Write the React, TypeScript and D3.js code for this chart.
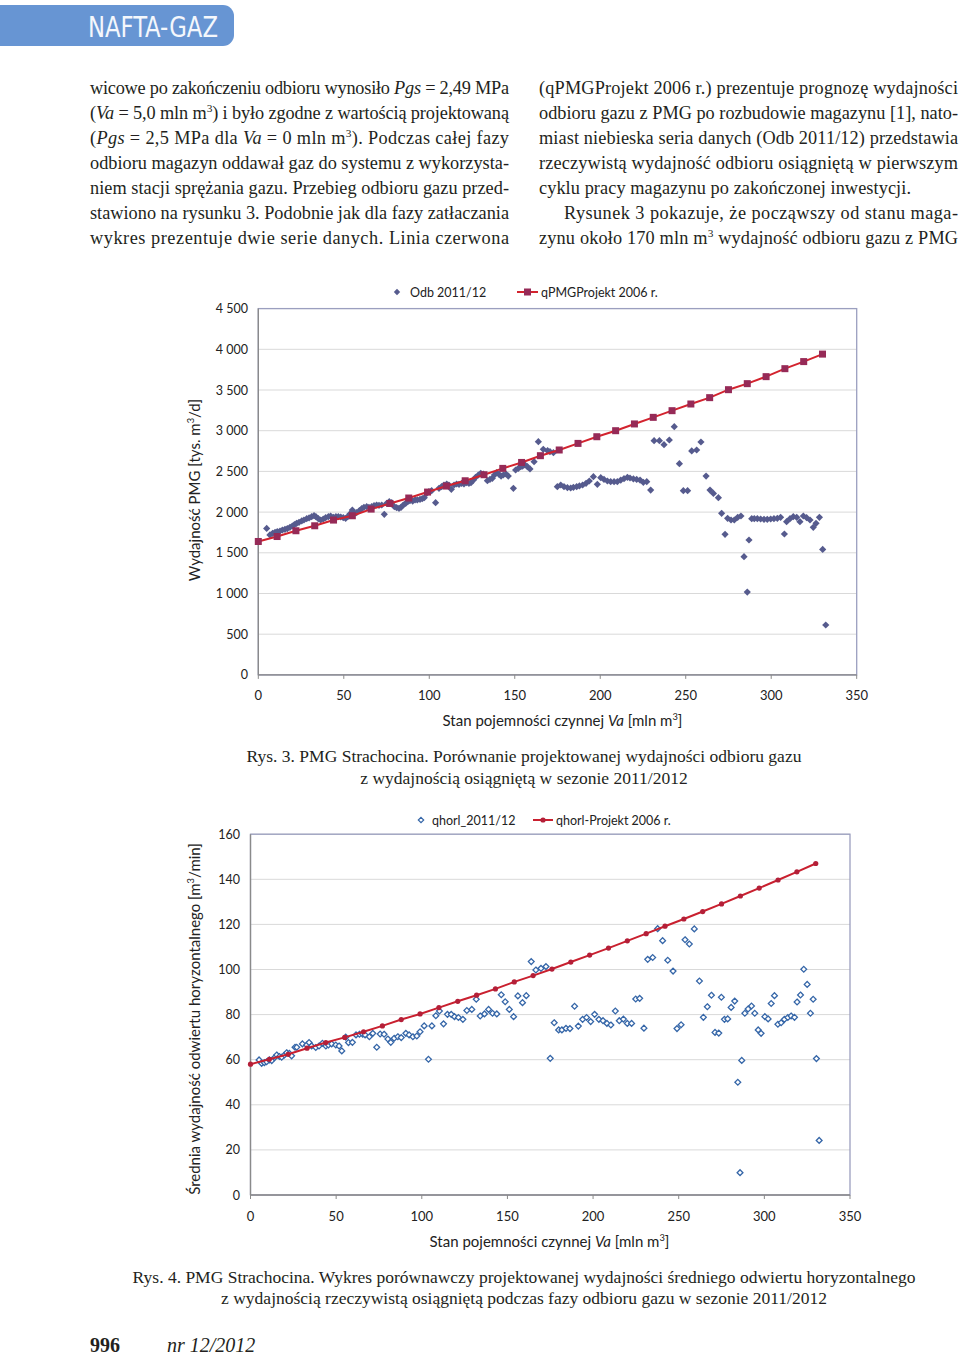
import React from 'react';
import * as d3 from 'd3';

// ---------- DATA ----------
const PROJ_VA = [0, 11, 22, 33, 44, 55, 66, 77, 88, 99, 110, 121, 132, 143, 154, 165, 176, 187, 198, 209, 220, 231, 242, 253, 264, 275, 286, 297, 308, 319, 330];
const PROJ_Q = [1639, 1700, 1771, 1832, 1902, 1955, 2037, 2106, 2173, 2246, 2320, 2385, 2459, 2537, 2610, 2693, 2763, 2844, 2926, 3000, 3083, 3164, 3246, 3328, 3406, 3504, 3578, 3664, 3762, 3849, 3941];

const ODB_VA = [4.9, 6.8, 8.4, 9.8, 11.1, 12.7, 14.1, 15.6, 17.0, 18.5, 19.9, 21.1, 22.4, 23.8, 25.4, 26.7, 28.3, 29.7, 31.2, 32.6, 33.7, 35.1, 36.5, 38.0, 39.4, 41.0, 42.3, 43.9, 45.4, 46.8, 48.2, 49.7, 51.1, 52.3, 53.6, 55.0, 56.2, 57.5, 59.1, 60.5, 61.8, 63.4, 64.7, 66.3, 67.7, 69.2, 70.6, 72.2, 73.7, 75.1, 76.6, 78.0, 79.6, 80.9, 82.3, 83.5, 84.8, 86.2, 87.4, 88.7, 90.3, 91.7, 93.0, 94.6, 95.9, 97.1, 98.5, 99.8, 101.4, 103.7, 105.7, 107.2, 108.6, 110.2, 111.5, 112.9, 114.5, 116.0, 117.4, 118.9, 120.3, 121.9, 123.2, 124.4, 125.8, 127.1, 128.7, 130.1, 131.6, 134.0, 135.5, 136.9, 138.1, 139.4, 140.8, 142.0, 143.3, 144.9, 146.2, 149.2, 150.5, 152.1, 153.5, 154.6, 156.0, 157.4, 158.9, 161.3, 163.8, 166.7, 169.2, 170.6, 172.6, 174.9, 176.9, 178.8, 180.8, 182.7, 184.3, 186.2, 187.8, 189.7, 191.7, 193.6, 196.0, 198.3, 200.3, 202.2, 204.2, 206.1, 208.1, 210.0, 212.0, 213.9, 215.9, 217.4, 219.4, 221.3, 223.3, 225.2, 227.2, 229.5, 231.5, 234.6, 237.3, 240.4, 243.3, 246.3, 248.6, 251.1, 253.5, 256.4, 258.9, 261.9, 264.2, 266.2, 269.1, 271.0, 273.0, 274.5, 276.5, 278.4, 280.4, 282.3, 284.1, 286.0, 287.0, 288.6, 290.1, 291.9, 293.8, 295.8, 297.7, 299.7, 301.6, 303.6, 305.5, 307.7, 309.0, 311.0, 312.9, 314.9, 316.8, 318.8, 320.7, 322.7, 324.6, 326.2, 328.2, 330.1, 331.9];
const ODB_Q = [1800, 1719, 1739, 1751, 1760, 1768, 1780, 1788, 1797, 1813, 1829, 1846, 1862, 1874, 1891, 1903, 1919, 1928, 1944, 1956, 1944, 1919, 1903, 1915, 1932, 1944, 1952, 1936, 1944, 1944, 1940, 1932, 1923, 1944, 1977, 2026, 1985, 1993, 2018, 2042, 2059, 2067, 2059, 2067, 2079, 2087, 2083, 2087, 1973, 2108, 2128, 2116, 2067, 2055, 2046, 2059, 2087, 2108, 2128, 2140, 2136, 2149, 2149, 2157, 2165, 2177, 2231, 2251, 2263, 2116, 2292, 2312, 2333, 2345, 2333, 2280, 2333, 2345, 2341, 2353, 2345, 2362, 2353, 2362, 2394, 2427, 2456, 2476, 2468, 2386, 2403, 2415, 2456, 2484, 2464, 2443, 2456, 2468, 2443, 2292, 2517, 2538, 2558, 2566, 2579, 2558, 2530, 2620, 2865, 2771, 2755, 2742, 2730, 2312, 2333, 2312, 2300, 2296, 2304, 2312, 2321, 2333, 2353, 2382, 2435, 2341, 2423, 2402, 2382, 2374, 2374, 2374, 2394, 2411, 2427, 2419, 2407, 2402, 2394, 2366, 2374, 2271, 2877, 2877, 2828, 2886, 3050, 2595, 2263, 2263, 2751, 2763, 2861, 2443, 2271, 2230, 2177, 1985, 1727, 1923, 1903, 1903, 1936, 1952, 1452, 1018, 1657, 1919, 1919, 1919, 1915, 1911, 1911, 1915, 1919, 1923, 1936, 1731, 1882, 1919, 1944, 1936, 1882, 1952, 1932, 1903, 1813, 1862, 1936, 1542, 613];

const HORL_PROJ_Q = [58.0, 60.2, 62.4, 65.1, 67.6, 69.9, 72.4, 75.0, 77.8, 80.3, 83.1, 85.9, 88.6, 91.4, 94.5, 97.3, 100.2, 103.3, 106.4, 109.5, 112.7, 115.9, 119.2, 122.4, 125.7, 129.1, 132.6, 136.1, 139.7, 143.3, 147.0];

const HORL_VA = [5.0, 6.5, 8.1, 9.4, 11.0, 12.4, 14.0, 15.3, 16.9, 18.2, 19.8, 21.1, 22.7, 24.0, 26.0, 27.0, 30.3, 32.8, 34.2, 35.7, 38.1, 40.0, 42.0, 44.0, 45.5, 47.4, 49.8, 51.7, 53.3, 55.6, 57.2, 59.5, 61.6, 63.6, 65.5, 66.9, 69.4, 71.4, 73.7, 75.7, 78.0, 80.2, 81.9, 83.9, 86.0, 88.0, 90.7, 92.6, 94.8, 97.1, 99.0, 101.4, 103.9, 105.9, 108.2, 110.3, 112.7, 115.0, 117.2, 119.1, 121.4, 124.0, 126.3, 129.2, 131.8, 134.1, 136.6, 139.0, 141.3, 143.8, 146.4, 148.7, 151.1, 153.6, 156.1, 158.8, 161.0, 163.9, 166.6, 169.6, 172.5, 175.0, 177.3, 179.9, 181.8, 184.2, 186.5, 189.2, 191.4, 193.9, 196.2, 198.6, 200.9, 203.4, 205.8, 208.1, 210.4, 213.0, 215.3, 217.7, 220.0, 222.5, 224.9, 227.2, 229.7, 231.9, 234.8, 237.7, 240.6, 243.6, 246.7, 249.0, 251.4, 253.7, 256.2, 259.1, 262.1, 264.4, 266.7, 269.1, 271.2, 273.4, 274.9, 276.7, 278.6, 280.6, 282.7, 284.5, 285.8, 286.8, 288.6, 290.5, 292.5, 294.4, 296.4, 298.1, 300.3, 302.2, 304.0, 305.9, 307.9, 309.8, 311.7, 313.7, 315.6, 317.6, 319.1, 321.1, 323.0, 325.0, 326.9, 328.5, 330.4, 332.0];
const HORL_Q = [59.9, 58.4, 58.7, 59.1, 59.9, 59.6, 60.9, 62.1, 61.4, 61.1, 62.1, 63.1, 62.8, 61.7, 65.5, 65.5, 67.0, 66.5, 67.6, 66.1, 65.4, 66.1, 67.3, 66.1, 66.5, 67.0, 66.5, 66.1, 63.9, 70.0, 67.6, 67.7, 71.0, 71.3, 71.3, 71.0, 70.2, 71.7, 65.5, 71.4, 71.3, 69.2, 67.7, 69.5, 70.2, 69.8, 71.7, 71.0, 70.2, 70.5, 72.4, 75.0, 60.2, 75.0, 79.5, 81.6, 75.9, 80.1, 80.1, 79.1, 78.7, 77.9, 81.8, 82.3, 86.8, 79.4, 80.3, 82.3, 80.6, 80.3, 88.8, 85.7, 82.3, 79.1, 88.3, 85.3, 88.4, 103.5, 99.8, 100.5, 101.3, 60.6, 76.4, 73.2, 73.2, 73.9, 73.8, 83.7, 74.9, 77.9, 78.7, 76.9, 80.1, 77.9, 77.3, 76.1, 75.4, 81.6, 77.3, 78.0, 76.1, 76.1, 86.9, 87.2, 74.0, 104.5, 105.3, 118.1, 112.8, 104.1, 99.3, 73.8, 75.5, 113.2, 111.3, 118.0, 94.9, 78.8, 83.5, 88.6, 72.1, 71.8, 87.7, 77.9, 78.1, 83.2, 86.0, 50.0, 9.9, 59.7, 80.6, 82.5, 83.8, 80.6, 73.2, 71.7, 79.1, 78.1, 84.9, 88.4, 75.7, 76.4, 77.9, 78.7, 79.4, 78.8, 85.6, 88.7, 100.1, 93.4, 80.6, 86.8, 60.5, 24.2];

const X_TICKS = [0, 50, 100, 150, 200, 250, 300, 350];
const Y1_TICKS = [0, 500, 1000, 1500, 2000, 2500, 3000, 3500, 4000, 4500];
const Y1_LABELS = ['0', '500', '1 000', '1 500', '2 000', '2 500', '3 000', '3 500', '4 000', '4 500'];
const Y2_TICKS = [0, 20, 40, 60, 80, 100, 120, 140, 160];

const SERIES1 = ['Odb 2011/12', 'qPMGProjekt 2006 r.'];
const SERIES2 = ['qhorl_2011/12', 'qhorl-Projekt 2006 r.'];

// ---------- TEXT ----------
type Seg = { t: string; i?: boolean; s?: boolean };
const S = (t: string): Seg => ({ t });
const I = (t: string): Seg => ({ t, i: true });
const SUP = (t: string): Seg => ({ t, s: true });

const LEFT_LINES: { segs: Seg[]; x: number; w?: number }[] = [
  { segs: [S('wicowe po zakończeniu odbioru wynosiło '), I('Pgs'), S(' = 2,49 MPa')], x: 90, w: 419 },
  { segs: [S('('), I('Va'), S(' = 5,0 mln m'), SUP('3'), S(') i było zgodne z wartością projektowaną')], x: 90, w: 419 },
  { segs: [S('('), I('Pgs'), S(' = 2,5 MPa dla '), I('Va'), S(' = 0 mln m'), SUP('3'), S('). Podczas całej fazy')], x: 90, w: 419 },
  { segs: [S('odbioru magazyn oddawał gaz do systemu z wykorzysta-')], x: 90, w: 419 },
  { segs: [S('niem stacji sprężania gazu. Przebieg odbioru gazu przed-')], x: 90, w: 419 },
  { segs: [S('stawiono na rysunku 3. Podobnie jak dla fazy zatłaczania')], x: 90, w: 419 },
  { segs: [S('wykres prezentuje dwie serie danych. Linia czerwona')], x: 90, w: 419 },
];
const RIGHT_LINES: { segs: Seg[]; x: number; w?: number }[] = [
  { segs: [S('(qPMGProjekt 2006 r.) prezentuje prognozę wydajności')], x: 539, w: 419 },
  { segs: [S('odbioru gazu z PMG po rozbudowie magazynu [1], nato-')], x: 539, w: 419 },
  { segs: [S('miast niebieska seria danych (Odb 2011/12) przedstawia')], x: 539, w: 419 },
  { segs: [S('rzeczywistą wydajność odbioru osiągniętą w pierwszym')], x: 539, w: 419 },
  { segs: [S('cyklu pracy magazynu po zakończonej inwestycji.')], x: 539, w: 372 },
  { segs: [S('Rysunek 3 pokazuje, że począwszy od stanu maga-')], x: 564, w: 394 },
  { segs: [S('zynu około 170 mln m'), SUP('3'), S(' wydajność odbioru gazu z PMG')], x: 539, w: 419 },
];

const SERIF = '"Liberation Serif", "Times New Roman", serif';
const SANS = 'Lato, Carlito, "Open Sans", sans-serif';
const TXT = '#231f20';

function Rich({ x, y, segs, size, family = SERIF, w, anchor = 'start', transform, fill = TXT }:
  { x: number; y: number; segs: Seg[]; size: number; family?: string; w?: number; anchor?: string; transform?: string; fill?: string }) {
  const out: React.ReactNode[] = [];
  let raised = false;
  segs.forEach((sg, k) => {
    let dy = 0;
    if (sg.s && !raised) { dy = -size * 0.38; raised = true; }
    else if (!sg.s && raised) { dy = size * 0.38; raised = false; }
    out.push(
      <tspan key={k} dy={dy || undefined} fontStyle={sg.i ? 'italic' : undefined} fontSize={sg.s ? size * 0.62 : undefined}>
        {sg.t}
      </tspan>
    );
  });
  return (
    <text x={x} y={y} fontFamily={family} fontSize={size} fill={fill} textAnchor={anchor}
      textLength={w} lengthAdjust={w ? 'spacing' : undefined} transform={transform}>
      {out}
    </text>
  );
}

const diamondPath = (r: number) => `M0,${-r}L${r},0L0,${r}L${-r},0Z`;

// ---------- CHART 1 ----------
function Chart1() {
  const x = d3.scaleLinear().domain([0, 350]).range([258.3, 856.7]);
  const y = d3.scaleLinear().domain([0, 4500]).range([674.9, 308.6]);
  const line = d3.line<number>().x((_, i) => x(PROJ_VA[i])).y((d) => y(d));
  return (
    <g>
      {Y1_TICKS.map((t) => (
        <line key={t} x1={x(0)} x2={x(350)} y1={y(t)} y2={y(t)} stroke="#d9d9d9" strokeWidth={1} />
      ))}
      <rect x={x(0)} y={y(4500)} width={x(350) - x(0)} height={y(0) - y(4500)} fill="none" stroke="#9b9fbf" strokeWidth={1.3} />
      <line x1={x(0)} x2={x(0)} y1={y(4500)} y2={y(0)} stroke="#8a8a8a" strokeWidth={1.3} />
      <line x1={x(0)} x2={x(350)} y1={y(0)} y2={y(0)} stroke="#8a8a8a" strokeWidth={1.3} />
      {X_TICKS.map((t) => (
        <line key={t} x1={x(t)} x2={x(t)} y1={y(0)} y2={y(0) + 4} stroke="#8a8a8a" />
      ))}
      {Y1_TICKS.map((t, i) => (
        <text key={t} x={248} y={y(t) + 4.5} textAnchor="end" fontFamily={SANS} fontSize={12.5} fill="#222">{Y1_LABELS[i]}</text>
      ))}
      {X_TICKS.map((t) => (
        <text key={t} x={x(t)} y={700} textAnchor="middle" fontFamily={SANS} fontSize={13} fill="#222">{t}</text>
      ))}
      {ODB_VA.map((v, i) => (
        <path key={i} d={diamondPath(3.6)} transform={`translate(${x(v)},${y(ODB_Q[i])})`} fill="#565b8e" />
      ))}
      <path d={line(PROJ_Q) || ''} fill="none" stroke="#d3232e" strokeWidth={2} />
      {PROJ_Q.map((q, i) => (
        <rect key={i} x={x(PROJ_VA[i]) - 3.5} y={y(q) - 3.5} width={7} height={7} fill="#962a57" />
      ))}
      {/* legend */}
      <path d={diamondPath(3.2)} transform="translate(397,292)" fill="#565b8e" />
      <text x={410} y={297} fontFamily={SANS} fontSize={12.5} fill="#222">{SERIES1[0]}</text>
      <line x1={517} x2={538} y1={292} y2={292} stroke="#d3232e" strokeWidth={2} />
      <rect x={524} y={288.5} width={7} height={7} fill="#962a57" />
      <text x={541} y={297} fontFamily={SANS} fontSize={12.5} fill="#222">{SERIES1[1]}</text>
      {/* axis titles */}
      <Rich x={562.5} y={726} anchor="middle" size={15} family={SANS} fill="#222"
        segs={[S('Stan pojemności czynnej '), I('Va'), S(' [mln m'), SUP('3'), S(']')]} />
      <Rich x={0} y={0} anchor="middle" size={15} family={SANS} fill="#222" transform="translate(200,490) rotate(-90)"
        segs={[S('Wydajność PMG [tys. m'), SUP('3'), S('/d]')]} />
    </g>
  );
}

// ---------- CHART 2 ----------
function Chart2() {
  const x = d3.scaleLinear().domain([0, 350]).range([250.5, 850]);
  const y = d3.scaleLinear().domain([0, 160]).range([1195, 834.2]);
  const line = d3.line<number>().x((_, i) => x(PROJ_VA[i])).y((d) => y(d));
  return (
    <g>
      {Y2_TICKS.map((t) => (
        <line key={t} x1={x(0)} x2={x(350)} y1={y(t)} y2={y(t)} stroke="#d9d9d9" strokeWidth={1} />
      ))}
      <rect x={x(0)} y={y(160)} width={x(350) - x(0)} height={y(0) - y(160)} fill="none" stroke="#9b9fbf" strokeWidth={1.3} />
      <line x1={x(0)} x2={x(0)} y1={y(160)} y2={y(0)} stroke="#8a8a8a" strokeWidth={1.3} />
      <line x1={x(0)} x2={x(350)} y1={y(0)} y2={y(0)} stroke="#8a8a8a" strokeWidth={1.3} />
      {X_TICKS.map((t) => (
        <line key={t} x1={x(t)} x2={x(t)} y1={y(0)} y2={y(0) + 4} stroke="#8a8a8a" />
      ))}
      {Y2_TICKS.map((t) => (
        <text key={t} x={240} y={y(t) + 4.5} textAnchor="end" fontFamily={SANS} fontSize={12.5} fill="#222">{t}</text>
      ))}
      {X_TICKS.map((t) => (
        <text key={t} x={x(t)} y={1221} textAnchor="middle" fontFamily={SANS} fontSize={13} fill="#222">{t}</text>
      ))}
      {HORL_VA.map((v, i) => (
        <path key={i} d={diamondPath(2.9)} transform={`translate(${x(v)},${y(HORL_Q[i])})`} fill="#fff" stroke="#3566a8" strokeWidth={1.3} />
      ))}
      <path d={line(HORL_PROJ_Q) || ''} fill="none" stroke="#c9202f" strokeWidth={2} />
      {HORL_PROJ_Q.map((q, i) => (
        <circle key={i} cx={x(PROJ_VA[i])} cy={y(q)} r={2.6} fill="#b41f38" />
      ))}
      {/* legend */}
      <path d={diamondPath(2.7)} transform="translate(421,820)" fill="#fff" stroke="#3566a8" strokeWidth={1.2} />
      <text x={432} y={825} fontFamily={SANS} fontSize={12.5} fill="#222">{SERIES2[0]}</text>
      <line x1={533} x2={553} y1={820} y2={820} stroke="#c9202f" strokeWidth={2} />
      <circle cx={543} cy={820} r={2.6} fill="#b41f38" />
      <text x={556} y={825} fontFamily={SANS} fontSize={12.5} fill="#222">{SERIES2[1]}</text>
      <Rich x={549.5} y={1247} anchor="middle" size={15} family={SANS} fill="#222"
        segs={[S('Stan pojemności czynnej '), I('Va'), S(' [mln m'), SUP('3'), S(']')]} />
      <Rich x={0} y={0} anchor="middle" size={15} family={SANS} fill="#222" transform="translate(200,1019) rotate(-90)"
        segs={[S('Średnia wydajność odwiertu horyzontalnego [m'), SUP('3'), S('/min]')]} />
    </g>
  );
}

export default function App() {
  return (
    <svg width={960} height={1356} viewBox="0 0 960 1356" style={{ position: 'absolute', left: 0, top: 0, background: '#fff' }}>
      <rect x={0} y={0} width={960} height={1356} fill="#fff" />
      {/* header tab */}
      <rect x={-20} y={5} width={254} height={41} rx={11} fill="#6795d3" />
      <text x={88} y={37} fontFamily='"Liberation Sans Narrow", "DejaVu Sans Condensed", sans-serif' fontSize={29}
        fill="#f4f7fc" textLength={130} lengthAdjust="spacingAndGlyphs">NAFTA-GAZ</text>

      {LEFT_LINES.map((l, i) => (
        <Rich key={'l' + i} x={l.x} y={94 + i * 25} segs={l.segs} size={18.3} w={l.w} />
      ))}
      {RIGHT_LINES.map((l, i) => (
        <Rich key={'r' + i} x={l.x} y={94 + i * 25} segs={l.segs} size={18.3} w={l.w} />
      ))}

      <Chart1 />
      <text x={524} y={762} textAnchor="middle" fontFamily={SERIF} fontSize={17.5} fill={TXT}>Rys. 3. PMG Strachocina. Porównanie projektowanej wydajności odbioru gazu</text>
      <text x={524} y={784} textAnchor="middle" fontFamily={SERIF} fontSize={17.5} fill={TXT}>z wydajnością osiągniętą w sezonie 2011/2012</text>

      <Chart2 />
      <text x={524} y={1283} textAnchor="middle" fontFamily={SERIF} fontSize={17.5} fill={TXT}>Rys. 4. PMG Strachocina. Wykres porównawczy projektowanej wydajności średniego odwiertu horyzontalnego</text>
      <text x={524} y={1304} textAnchor="middle" fontFamily={SERIF} fontSize={17.5} fill={TXT}>z wydajnością rzeczywistą osiągniętą podczas fazy odbioru gazu w sezonie 2011/2012</text>

      <text x={90} y={1352} fontFamily={SERIF} fontSize={20} fontWeight="bold" fill={TXT}>996</text>
      <text x={167} y={1352} fontFamily={SERIF} fontSize={20} fontStyle="italic" fill={TXT}>nr 12/2012</text>
    </svg>
  );
}
